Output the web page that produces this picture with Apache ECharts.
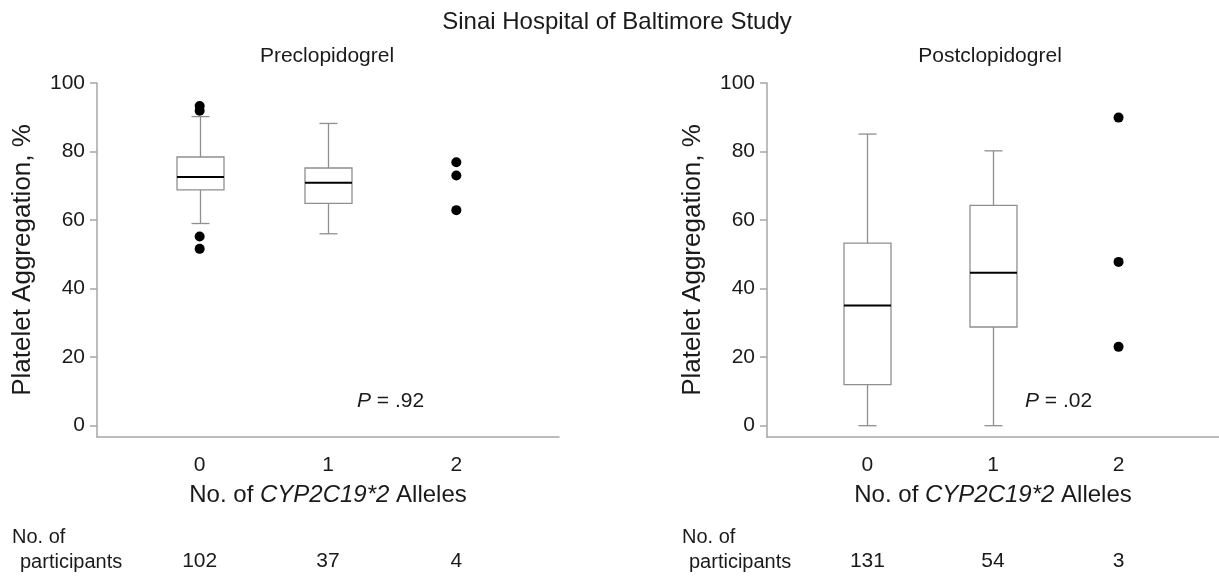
<!DOCTYPE html>
<html>
<head>
<meta charset="utf-8">
<script src="https://cdn.jsdelivr.net/npm/echarts@6/dist/echarts.min.js"></script>
<style>html,body{margin:0;padding:0;background:#fff}#c{width:1219px;height:576px}</style>
</head>
<body>
<div id="c"></div>
<script>
// ---- data ----
const mainTitle = 'Sinai Hospital of Baltimore Study';
const panelTitles = ['Preclopidogrel', 'Postclopidogrel'];
const categories = [0, 1, 2];
const yTicks = [0, 20, 40, 60, 80, 100];
// [allele count, lower whisker, Q1, median, Q3, upper whisker]
const preBoxes = [
  [0, 59, 68.8, 72.6, 78.4, 90.2],
  [1, 56, 64.9, 70.9, 75.2, 88.2]
];
const preOutliers = [[0, 93.3], [0, 91.9], [0, 55.2], [0, 51.6], [2, 76.9], [2, 73.0], [2, 62.9]];
const postBoxes = [
  [0, 0, 12.0, 35.1, 53.3, 85.1],
  [1, 0, 28.8, 44.6, 64.3, 80.2]
];
const postOutliers = [[2, 89.9], [2, 47.8], [2, 23.0]];
const preCounts = [102, 37, 4];
const postCounts = [131, 54, 3];
const pValues = ['.92', '.02'];

// ---- styles ----
const FONT = 'Liberation Sans';
const AXIS_COLOR = '#a6a6a6';
const TEXT_COLOR = '#1a1a1a';
const BOX_COLOR = '#8f8f8f';
const BOX_W = 47, CAP_W = 18;
const FS = 21;

const chart = echarts.init(document.getElementById('c'), null, {renderer: 'canvas'});

function renderBox(params, api) {
  const x = api.value(0);
  const lo = api.coord([x, api.value(1)]);
  const q1 = api.coord([x, api.value(2)]);
  const md = api.coord([x, api.value(3)]);
  const q3 = api.coord([x, api.value(4)]);
  const hi = api.coord([x, api.value(5)]);
  const cx = Math.round(lo[0]) + 0.5;
  const h = BOX_W / 2, c = CAP_W / 2;
  const thin = {stroke: BOX_COLOR, lineWidth: 1.3, fill: null};
  return {
    type: 'group',
    children: [
      {type: 'line', shape: {x1: cx, y1: hi[1], x2: cx, y2: q3[1]}, style: thin},
      {type: 'line', shape: {x1: cx, y1: q1[1], x2: cx, y2: lo[1]}, style: thin},
      {type: 'line', shape: {x1: cx - c, y1: hi[1], x2: cx + c, y2: hi[1]}, style: thin},
      {type: 'line', shape: {x1: cx - c, y1: lo[1], x2: cx + c, y2: lo[1]}, style: thin},
      {type: 'rect', shape: {x: cx - h, y: q3[1], width: BOX_W, height: q1[1] - q3[1]}, style: {stroke: BOX_COLOR, lineWidth: 1.3, fill: '#fff'}},
      {type: 'line', shape: {x1: cx - h, y1: md[1], x2: cx + h, y2: md[1]}, style: {stroke: '#000', lineWidth: 2}}
    ]
  };
}

const grids = [
  {left: 97, top: 83, width: 462, height: 354},
  {left: 767, top: 83, width: 462, height: 354}
];

function makeYAxis(i) {
  return {
    type: 'value', gridIndex: i, min: -3.3, max: 100,
    name: 'Platelet Aggregation, %', nameLocation: 'middle', nameGap: 61,
    nameTextStyle: {fontFamily: FONT, fontSize: 26, color: TEXT_COLOR},
    axisLine: {show: true, onZero: false, lineStyle: {color: AXIS_COLOR, width: 1.5}},
    axisTick: {show: true, length: 7, customValues: yTicks, lineStyle: {color: AXIS_COLOR, width: 1.5}},
    axisLabel: {customValues: yTicks, margin: 12, fontFamily: FONT, fontSize: FS, color: TEXT_COLOR},
    splitLine: {show: false}
  };
}
function makeXAxis(i) {
  return {
    type: 'value', gridIndex: i, min: -0.8, max: 2.8, position: 'bottom',
    name: 'No. of {i|CYP2C19*2} Alleles', nameLocation: 'middle', nameGap: 46,
    nameTextStyle: {fontFamily: FONT, fontSize: 24, color: TEXT_COLOR,
      rich: {i: {fontStyle: 'italic', fontFamily: FONT, fontSize: 24, color: TEXT_COLOR}}},
    axisLine: {show: true, onZero: false, lineStyle: {color: AXIS_COLOR, width: 1.5}},
    axisTick: {show: false},
    axisLabel: {customValues: categories, margin: 18, fontFamily: FONT, fontSize: FS, color: TEXT_COLOR},
    splitLine: {show: false}
  };
}
function makeCountAxis(i, counts) {
  return {
    type: 'value', gridIndex: i, min: -0.8, max: 2.8, position: 'bottom', offset: 106,
    axisLine: {show: false, onZero: false}, axisTick: {show: false}, splitLine: {show: false},
    axisLabel: {customValues: categories, margin: 8, fontFamily: FONT, fontSize: FS, color: TEXT_COLOR,
      formatter: v => String(counts[categories.indexOf(Math.round(v))])}
  };
}

const F = '20px "' + FONT + '"';
const txt = (x, y, text, opts) => ({type: 'text', x, y, style: Object.assign({text, font: F, fill: TEXT_COLOR}, opts || {})});
const pRich = {font: FS + 'px "' + FONT + '"', rich: {i: {fontStyle: 'italic', fontFamily: FONT, fontSize: FS, color: TEXT_COLOR}}};

const option = {
  backgroundColor: '#fff',
  animation: false,
  title: [
    {text: mainTitle, left: 612, top: 5, textAlign: 'center', textStyle: {fontFamily: FONT, fontSize: 24, fontWeight: 'normal', color: TEXT_COLOR}},
    {text: panelTitles[0], left: 322, top: 41, textAlign: 'center', textStyle: {fontFamily: FONT, fontSize: FS, fontWeight: 'normal', color: TEXT_COLOR}},
    {text: panelTitles[1], left: 985, top: 41, textAlign: 'center', textStyle: {fontFamily: FONT, fontSize: FS, fontWeight: 'normal', color: TEXT_COLOR}}
  ],
  grid: grids,
  xAxis: [makeXAxis(0), makeXAxis(1), makeCountAxis(0, preCounts), makeCountAxis(1, postCounts)],
  yAxis: [makeYAxis(0), makeYAxis(1)],
  series: [
    {type: 'custom', xAxisIndex: 0, yAxisIndex: 0, renderItem: renderBox, data: preBoxes, encode: {x: 0, y: [1, 2, 3, 4, 5]}, z: 2},
    {type: 'custom', xAxisIndex: 1, yAxisIndex: 1, renderItem: renderBox, data: postBoxes, encode: {x: 0, y: [1, 2, 3, 4, 5]}, z: 2},
    {type: 'scatter', xAxisIndex: 0, yAxisIndex: 0, data: preOutliers, symbolSize: 10, itemStyle: {color: '#000', opacity: 1}, z: 3},
    {type: 'scatter', xAxisIndex: 1, yAxisIndex: 1, data: postOutliers, symbolSize: 10, itemStyle: {color: '#000', opacity: 1}, z: 3}
  ],
  graphic: [
    txt(357, 391, '{i|P} = ' + pValues[0], pRich),
    txt(1025, 391, '{i|P} = ' + pValues[1], pRich),
    txt(12, 527, 'No. of'),
    txt(20, 552, 'participants'),
    txt(682, 527, 'No. of'),
    txt(689, 552, 'participants')
  ]
};
chart.setOption(option);
</script>
</body>
</html>
